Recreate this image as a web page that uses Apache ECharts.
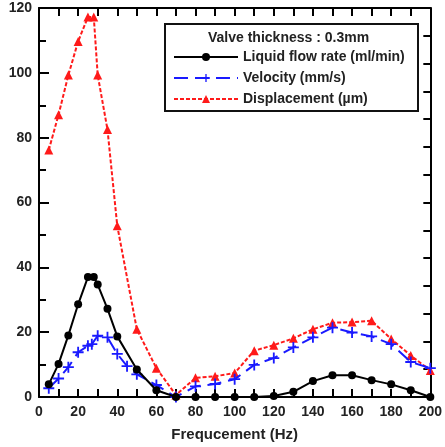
<!DOCTYPE html>
<html><head><meta charset="utf-8">
<script src="https://cdn.jsdelivr.net/npm/echarts@6/dist/echarts.min.js"></script>
<style>html,body{margin:0;padding:0;background:#fff}#c{width:445px;height:447px}</style>
</head><body><div id="c"></div>
<script>
var flowX = [5,10,15,20,25,28,30,35,40,50,60,70,80,90,100,110,120,130,140,150,160,170,180,190,200];
var flowY = [3.9,10.2,19,28.6,37,37,34.7,27.2,18.7,8.5,2.1,0,0,0,0,0,0.3,1.6,4.9,6.7,6.7,5.2,3.9,2.1,0];
var velX = [5,10,15,20,25,27,30,35,40,45,50,60,70,80,90,100,110,120,130,140,150,160,170,180,190,200];
var velY = [2.7,5.7,9.2,13.8,15.8,16.3,18.9,18.4,13.3,9.5,7,3.7,0,3.3,4,5.5,9.9,12,15.3,18.4,21.4,19.9,18.7,16.3,10.8,8.9];
var dispX = [5,10,15,20,25,28,30,35,40,50,60,70,80,90,100,110,120,130,140,150,160,170,180,190,200];
var dispY = [76.2,87.1,99.3,109.7,117.2,117.2,99.3,82.5,52.8,20.9,8.9,0.6,5.9,6.4,7.4,14.3,16,18.1,20.9,22.9,23.1,23.5,17.9,12.8,8.2];
var names = ['Liquid flow rate (ml/min)','Velocity (mm/s)','Displacement (\u00b5m)'];
var legendTitle = 'Valve thickness : 0.3mm';
var xTitle = 'Frequcement (Hz)';

function pairs(xs, ys){ return xs.map(function(x,i){ return [x, ys[i]]; }); }
var FONT = '"Liberation Sans", Arial, sans-serif';
var plusPath = 'path://M-1,-6H1V-1H6V1H1V6H-1V1H-6V-1H-1Z';

var chart = echarts.init(document.getElementById('c'), null, {renderer:'canvas'});
chart.setOption({
  animation:false,
  backgroundColor:'#fff',
  grid:{left:39, right:12, top:8, bottom:45, containLabel:false},
  xAxis:[{
    type:'value', min:0, max:200, interval:20, position:'bottom',
    name:xTitle, nameLocation:'middle', nameGap:30,
    nameTextStyle:{fontFamily:FONT, fontWeight:'bold', fontSize:15, color:'#222'},
    axisLine:{show:true, onZero:false, lineStyle:{color:'#000', width:2}},
    axisTick:{show:true, inside:true, length:8, lineStyle:{color:'#000', width:2}},
    minorTick:{show:true, splitNumber:2, length:8, lineStyle:{color:'#000', width:2}},
    axisLabel:{fontFamily:FONT, fontWeight:'bold', fontSize:14, color:'#222', margin:8},
    splitLine:{show:false}
  },{
    type:'value', min:0, max:200, interval:10, position:'top',
    axisLine:{show:true, onZero:false, lineStyle:{color:'#000', width:2}},
    axisTick:{show:true, inside:true, length:8, lineStyle:{color:'#000', width:2}},
    axisLabel:{show:false}, splitLine:{show:false}
  }],
  yAxis:[{
    type:'value', min:0, max:120, interval:20, position:'left',
    axisLine:{show:true, onZero:false, lineStyle:{color:'#000', width:2}},
    axisTick:{show:true, inside:true, length:10, lineStyle:{color:'#000', width:2}},
    minorTick:{show:true, splitNumber:2, length:7, lineStyle:{color:'#000', width:2}},
    axisLabel:{fontFamily:FONT, fontWeight:'bold', fontSize:14, color:'#222', margin:7},
    splitLine:{show:false}
  },{
    type:'value', min:0, max:14, interval:1, position:'right',
    axisLine:{show:true, onZero:false, lineStyle:{color:'#000', width:2}},
    axisTick:{show:true, inside:true, length:7, lineStyle:{color:'#000', width:2}},
    axisLabel:{show:false}, splitLine:{show:false}
  }],
  legend:{
    orient:'vertical', left:168, top:45, itemWidth:64, itemHeight:10, itemGap:7,
    data:names,
    textStyle:{fontFamily:FONT, fontWeight:'bold', fontSize:14, color:'#222'}
  },
  graphic:[{
    type:'rect', left:164, top:23, shape:{width:253, height:87},
    style:{fill:'#fff', stroke:'#111', lineWidth:2}, z:0
  },{
    type:'text', left:208, top:31,
    style:{text:legendTitle, font:'bold 14px "Liberation Sans", Arial, sans-serif', fill:'#222'},
    z:10
  }],
  series:[{
    name:names[2], type:'line', data:pairs(dispX, dispY), xAxisIndex:0, yAxisIndex:0,
    symbol:'triangle', symbolSize:9, color:'#ff1a1a',
    lineStyle:{color:'#ff1a1a', width:2, type:[4,2]}, itemStyle:{color:'#ff1a1a'}, z:3
  },{
    name:names[1], type:'line', data:pairs(velX, velY),
    symbol:plusPath, symbolSize:11, color:'#1a1aff',
    lineStyle:{color:'#1a1aff', width:2, type:[14,7]}, itemStyle:{color:'#1a1aff'}, z:4
  },{
    name:names[0], type:'line', data:pairs(flowX, flowY),
    symbol:'circle', symbolSize:8, color:'#000',
    lineStyle:{color:'#000', width:2}, itemStyle:{color:'#000'}, z:5
  }]
});
</script></body></html>
